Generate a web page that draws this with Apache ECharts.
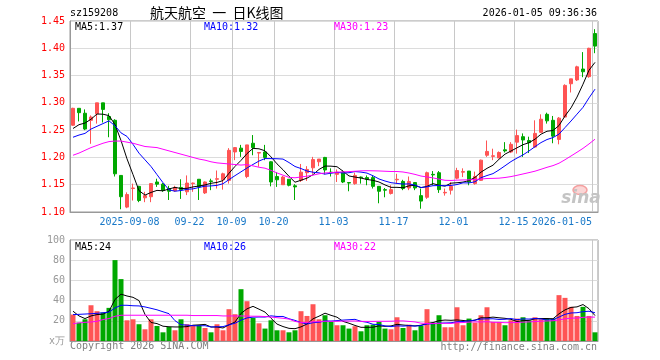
<!DOCTYPE html>
<html><head><meta charset="utf-8">
<script src="https://cdn.jsdelivr.net/npm/echarts@6/dist/echarts.min.js"></script>
<style>html,body{margin:0;padding:0;background:#fff}#c{width:660px;height:360px}</style>
</head><body><div id="c"></div>
<script>
// ---------- data ----------
const dates = [
'2025-08-25','2025-08-26','2025-08-27','2025-08-28','2025-08-29','2025-09-01','2025-09-02','2025-09-03','2025-09-04','2025-09-05',
'2025-09-08','2025-09-09','2025-09-10','2025-09-11','2025-09-12','2025-09-15','2025-09-16','2025-09-17','2025-09-18','2025-09-19',
'2025-09-22','2025-09-23','2025-09-24','2025-09-25','2025-09-26','2025-09-29','2025-09-30',
'2025-10-09','2025-10-10','2025-10-13','2025-10-14','2025-10-15','2025-10-16','2025-10-17',
'2025-10-20','2025-10-21','2025-10-22','2025-10-23','2025-10-24','2025-10-27','2025-10-28','2025-10-29','2025-10-30','2025-10-31',
'2025-11-03','2025-11-04','2025-11-05','2025-11-06','2025-11-07','2025-11-10','2025-11-11','2025-11-12','2025-11-13','2025-11-14',
'2025-11-17','2025-11-18','2025-11-19','2025-11-20','2025-11-21','2025-11-24','2025-11-25','2025-11-26','2025-11-27','2025-11-28',
'2025-12-01','2025-12-02','2025-12-03','2025-12-04','2025-12-05','2025-12-08','2025-12-09','2025-12-10','2025-12-11','2025-12-12',
'2025-12-15','2025-12-16','2025-12-17','2025-12-18','2025-12-19','2025-12-22','2025-12-23','2025-12-24','2025-12-25','2025-12-26','2025-12-29','2025-12-30','2025-12-31',
'2026-01-05'];

const tickDates  = ['2025-09-08','2025-09-22','2025-10-09','2025-10-20','2025-11-03','2025-11-17','2025-12-01','2025-12-15','2026-01-05'];
const tickLabels = ['2025-09-08','09-22','10-09','10-20','11-03','11-17','12-01','12-15','2026-01-05'];

const openP = [1.259,1.290,1.281,1.268,1.280,1.300,1.275,1.268,1.167,1.109,
1.143,1.147,1.126,1.128,1.155,1.151,1.143,1.139,1.145,1.137,
1.152,1.160,1.135,1.157,1.160,1.159,1.158,1.210,1.217,1.165,
1.226,1.208,1.210,1.192,1.165,1.150,1.160,1.148,1.158,1.172,
1.181,1.192,1.200,1.173,1.169,1.173,1.154,1.152,1.164,1.163,
1.163,1.147,1.141,1.134,1.159,1.156,1.144,1.154,1.130,1.127,
1.169,1.172,1.135,1.140,1.162,1.173,1.175,1.152,1.158,1.204,
1.202,1.199,1.214,1.210,1.228,1.238,1.231,1.219,1.246,1.279,
1.268,1.233,1.274,1.335,1.342,1.362,1.348,1.427];
const closeP = [1.290,1.282,1.252,1.274,1.300,1.288,1.269,1.170,1.128,1.132,
1.144,1.121,1.130,1.152,1.151,1.140,1.138,1.145,1.141,1.153,
1.153,1.146,1.155,1.156,1.161,1.170,1.213,1.218,1.211,1.223,
1.218,1.209,1.200,1.155,1.159,1.164,1.149,1.146,1.173,1.178,
1.196,1.197,1.177,1.172,1.173,1.155,1.153,1.167,1.163,1.160,
1.147,1.138,1.140,1.141,1.160,1.143,1.156,1.144,1.120,1.172,
1.168,1.141,1.136,1.147,1.176,1.174,1.155,1.165,1.195,1.211,
1.203,1.209,1.212,1.224,1.240,1.232,1.227,1.244,1.270,1.267,
1.239,1.272,1.332,1.344,1.366,1.357,1.400,1.404];
const lowP = [1.258,1.266,1.250,1.225,1.262,1.264,1.237,1.165,1.105,1.107,
1.121,1.118,1.118,1.118,1.146,1.137,1.122,1.137,1.124,1.131,
1.137,1.122,1.133,1.140,1.143,1.141,1.152,1.195,1.201,1.162,
1.204,1.183,1.195,1.147,1.146,1.150,1.147,1.122,1.155,1.157,
1.170,1.184,1.169,1.165,1.155,1.153,1.138,1.150,1.152,1.149,
1.143,1.116,1.127,1.132,1.152,1.140,1.140,1.140,1.106,1.124,
1.149,1.135,1.130,1.132,1.160,1.164,1.149,1.150,1.157,1.201,
1.195,1.199,1.209,1.208,1.207,1.201,1.208,1.218,1.245,1.262,
1.226,1.224,1.274,1.319,1.340,1.347,1.346,1.391];
const highP = [1.291,1.290,1.288,1.277,1.300,1.300,1.281,1.270,1.167,1.136,
1.152,1.148,1.137,1.153,1.161,1.153,1.148,1.148,1.160,1.167,
1.154,1.160,1.156,1.161,1.176,1.172,1.217,1.219,1.223,1.223,
1.241,1.210,1.223,1.193,1.173,1.166,1.160,1.151,1.188,1.184,
1.201,1.197,1.201,1.180,1.178,1.176,1.155,1.172,1.165,1.167,
1.166,1.147,1.144,1.149,1.170,1.159,1.165,1.155,1.143,1.174,
1.175,1.175,1.143,1.155,1.181,1.180,1.175,1.174,1.196,1.231,
1.216,1.211,1.228,1.228,1.251,1.244,1.238,1.268,1.279,1.282,
1.276,1.274,1.334,1.344,1.368,1.393,1.401,1.435];

// volume, 万
const volume = [26.2,18.2,21.5,35.4,29.5,28.1,32.8,80.1,61.3,20.5,
21.5,16.6,11.6,21.5,14.9,8.6,13.9,10.6,21.5,16.6,
15.6,15.6,12.9,8.6,16.6,10.6,31.5,26.5,51.3,39.4,
22.8,17.5,12.3,20.5,10.6,10.6,8.6,10.6,29.5,24.8,
36.4,21.5,25.5,18.9,15.6,15.6,12.3,14.6,9.6,15.6,
16.2,18.9,12.3,11.6,23.5,12.9,16.2,10.6,14.9,31.5,
18.2,25.5,13.6,13.6,33.4,15.6,22.2,18.2,25.5,33.4,
18.9,18.9,15.6,20.5,22.2,23.5,20.5,23.5,21.5,22.2,
22.2,45.4,42.7,33.8,24.8,33.8,24.8,8.6];

// moving-average values at the left edge (earlier history is off-chart)
const priceMa5Head  = [1.253,1.260,1.263,1.270];
const priceMa10Head = [1.237,1.241,1.244,1.252,1.257,1.262,1.267,1.258,1.245];
const priceMa30Head = [1.204,1.208,1.213,1.218,1.222,1.226,1.229,1.230,1.230,1.228,1.226,1.223,1.220,1.219,1.218,1.215,1.212,1.209,1.206,1.203,1.200,1.197,1.195,1.192,1.190,1.189,1.188,1.187,1.186];
const volMa5Head  = [29.5,24.8,22.2,24.8];
const volMa10Head = [26.1,26.4,26.7,27.0,27.4,28.0,28.6,32.7,35.4];
const volMa30Head = [17.2,17.9,18.5,18.8,19.5,21.2,22.2,24.5,25.5,25.5,25.5,25.5,25.5,25.5,25.5,25.5,25.5,25.5,25.5,25.5,25.2,25.2,25.2,25.2,25.2,24.8,24.8,24.8,24.8];

const priceTicks = [1.10,1.15,1.20,1.25,1.30,1.35,1.40,1.45];
const volTicks = [0,20,40,60,80,100];

const headerCode = 'sz159208';
const headerTitle = '航天航空  一  日K线图';
const headerTime = '2026-01-05 09:36:36';
const priceMaText = ['MA5:1.37','MA10:1.32','MA30:1.23'];
const volMaText = ['MA5:24','MA10:26','MA30:22'];

// ---------- helpers ----------
function movingAvg(vals, n, head){
  return vals.map((v,i)=>{
    if(i < n-1) return head[i];
    let s=0; for(let k=i-n+1;k<=i;k++) s+=vals[k];
    return +(s/n).toFixed(4);
  });
}
const UP='#ff5454', DOWN='#00a800';
const MONO='"DejaVu Sans Mono", "Liberation Mono", monospace';
const tickIdx = tickDates.map(d=>dates.indexOf(d));
const lastIdx = dates.length-1;

const kData = dates.map((d,i)=>[openP[i],closeP[i],lowP[i],highP[i]]);
const volData = volume.map((v,i)=>({value:v,itemStyle:{color: closeP[i]>=openP[i]?UP:DOWN}}));

const chart = echarts.init(document.getElementById('c'));
const gridW = 528;
const borderLine = {show:true, lineStyle:{color:'#999', width:1}};
// solid light lines standing in for the dotted / dashed guides
const vSplit = {type:'solid', color:'#c8c8c8', width:1};
const hSplit = {type:'solid', color:'#dcdcdc', width:1};

function xAxisCfg(gi, showLabel){
  return {
    type:'category', gridIndex:gi, data:dates,
    axisLine:borderLine, axisTick:{show:false},
    splitLine:{show:true, interval:(i)=>tickIdx.includes(i), lineStyle:vSplit},
    axisLabel: showLabel ? {
      show:true, interval:(i)=>tickIdx.includes(i),
      color:'#1878c8', fontFamily:MONO, fontSize:10, margin:5,
      alignMaxLabel:'right', hideOverlap:false,
      formatter:(v,i)=>{
        const k = tickDates.indexOf(v);
        const t = k>=0 ? tickLabels[k] : '';
        return v===dates[lastIdx] ? '{r|'+t+'}' : '{c|'+t+'}';
      },
      rich:{ c:{padding:[0,7,0,0], color:'#1878c8', fontFamily:MONO, fontSize:10},
             r:{padding:[0,3,0,0], color:'#1878c8', fontFamily:MONO, fontSize:10} }
    } : {show:false}
  };
}

const lineS = (name, data, color, xi, yi)=>({
  name, type:'line', xAxisIndex:xi, yAxisIndex:yi, data, symbol:'none', smooth:false,
  lineStyle:{color, width:1}, z:5, silent:true
});

const option = {
  animation:false,
  grid:[
    {left:70, top:21, width:gridW, height:191, show:true, borderColor:'#999', borderWidth:1},
    {left:70, top:240, width:gridW, height:101, show:true, borderColor:'#999', borderWidth:1}
  ],
  xAxis:[ xAxisCfg(0,true), xAxisCfg(1,false) ],
  yAxis:[
    {type:'value', gridIndex:0, min:priceTicks[0], max:priceTicks[priceTicks.length-1], interval:0.05,
     axisLine:borderLine, axisTick:{show:false}, splitLine:{show:true, lineStyle:hSplit},
     axisLabel:{color:'#ff0000', fontFamily:MONO, fontSize:10, margin:5, formatter:v=>v.toFixed(2)}},
    {type:'value', gridIndex:1, min:volTicks[0], max:volTicks[volTicks.length-1], interval:20,
     axisLine:borderLine, axisTick:{show:false}, splitLine:{show:true, lineStyle:hSplit},
     axisLabel:{color:'#999', fontFamily:MONO, fontSize:10, margin:5, formatter:v=>v===0?'x万':String(v)}}
  ],
  series:[
    {type:'candlestick', xAxisIndex:0, yAxisIndex:0, data:kData, barWidth:4,
     itemStyle:{color:UP, color0:DOWN, borderColor:UP, borderColor0:DOWN, borderWidth:1}, z:3},
    lineS('MA5', movingAvg(closeP,5,priceMa5Head), '#000000',0,0),
    lineS('MA10', movingAvg(closeP,10,priceMa10Head), '#0000ff',0,0),
    lineS('MA30', movingAvg(closeP,30,priceMa30Head), '#ff00ff',0,0),
    {type:'bar', xAxisIndex:1, yAxisIndex:1, data:volData, barWidth:5, z:3},
    lineS('VMA5', movingAvg(volume,5,volMa5Head), '#000000',1,1),
    lineS('VMA10', movingAvg(volume,10,volMa10Head), '#0000ff',1,1),
    lineS('VMA30', movingAvg(volume,30,volMa30Head), '#ff00ff',1,1)
  ],
  graphic:[
    {type:'text', x:70, y:13, style:{text:headerCode, fill:'#000', font:'10px '+MONO, align:'left', verticalAlign:'middle'}},
    {type:'text', x:150, y:13, style:{text:headerTitle, fill:'#000', font:'14px "Noto Sans CJK SC", sans-serif', align:'left', verticalAlign:'middle'}},
    {type:'text', x:597, y:13, style:{text:headerTime, fill:'#000', font:'10px '+MONO, align:'right', verticalAlign:'middle'}},
    {type:'text', x:75, y:27, z:10, style:{text:priceMaText[0], fill:'#000', font:'10px '+MONO, verticalAlign:'middle'}},
    {type:'text', x:204, y:27, z:10, style:{text:priceMaText[1], fill:'#0000ff', font:'10px '+MONO, verticalAlign:'middle'}},
    {type:'text', x:334, y:27, z:10, style:{text:priceMaText[2], fill:'#ff00ff', font:'10px '+MONO, verticalAlign:'middle'}},
    {type:'text', x:75, y:247, z:10, style:{text:volMaText[0], fill:'#000', font:'10px '+MONO, verticalAlign:'middle'}},
    {type:'text', x:204, y:247, z:10, style:{text:volMaText[1], fill:'#0000ff', font:'10px '+MONO, verticalAlign:'middle'}},
    {type:'text', x:334, y:247, z:10, style:{text:volMaText[2], fill:'#ff00ff', font:'10px '+MONO, verticalAlign:'middle'}},
    {type:'text', x:70, y:346, style:{text:'Copyright 2026 SINA.COM', fill:'#808080', font:'10px '+MONO, verticalAlign:'middle'}},
    {type:'text', x:597, y:347, style:{text:'http://finance.sina.com.cn', fill:'#808080', font:'10px '+MONO, align:'right', verticalAlign:'middle'}},
    {type:'ellipse', shape:{cx:580, cy:190, rx:7, ry:4.5}, style:{fill:'#fbd6d6', stroke:'#f4a0a0', lineWidth:1.5}, z:1},
    {type:'text', x:581, y:199, z:1, style:{text:'sina', fill:'#c4c4c4', font:'italic bold 17px "DejaVu Sans", sans-serif', align:'center', verticalAlign:'middle'}}
  ]
};
chart.setOption(option);
</script></body></html>
